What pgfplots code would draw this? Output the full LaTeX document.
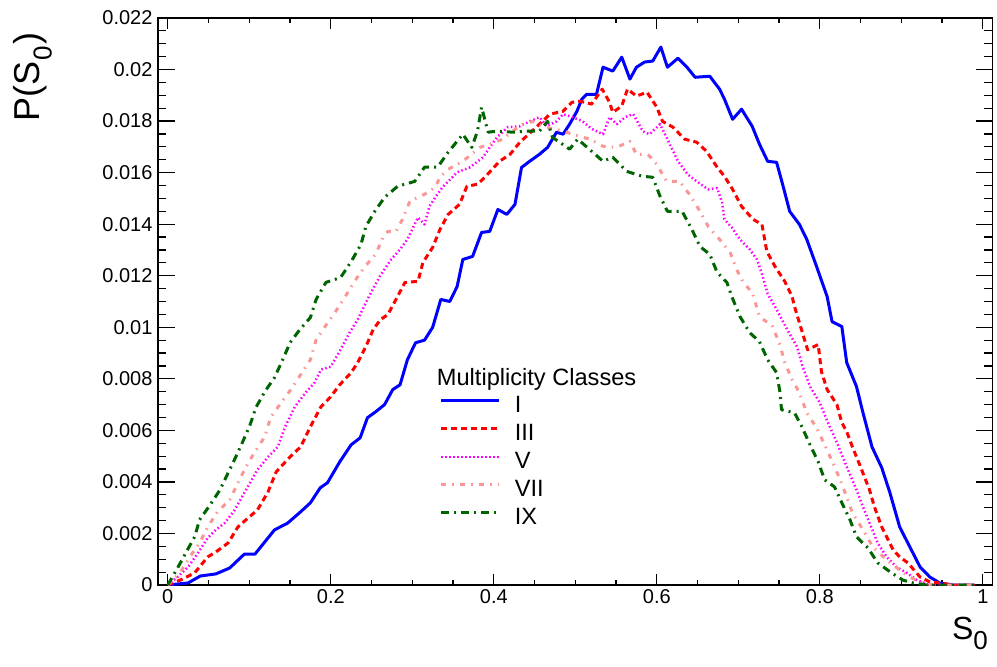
\documentclass[border=0pt]{standalone}
\usepackage{fontspec}
\setmainfont{Liberation Sans}
\usepackage{pgfplots}
\pgfplotsset{compat=1.18}
\definecolor{cI}{RGB}{0,0,255}
\definecolor{cIII}{RGB}{255,0,0}
\definecolor{cV}{RGB}{255,0,255}
\definecolor{cVII}{RGB}{250,150,150}
\definecolor{cIX}{RGB}{0,100,0}
\newcommand\subz[1]{\raisebox{-0.32em}{\fontsize{26bp}{28bp}\selectfont #1}}
\begin{document}
\begin{tikzpicture}
\path[use as bounding box] (-158bp,-82bp) rectangle (839bp,585bp);
\begin{axis}[
  at={(0,0)}, anchor=south west,
  scale only axis, width=834.6bp, height=567bp,
  xmin=-0.012, xmax=1.012, ymin=0, ymax=0.022,
  scaled x ticks=false, scaled y ticks=false,
  xtick={0,0.2,0.4,0.6,0.8,1}, xticklabels={0,0.2,0.4,0.6,0.8,1},
  ytick={0,0.002,0.004,0.006,0.008,0.01,0.012,0.014,0.016,0.018,0.02,0.022},
  yticklabels={0,0.002,0.004,0.006,0.008,0.01,0.012,0.014,0.016,0.018,0.02,0.022},
  minor x tick num=3, minor y tick num=3,
  tick align=inside,
  xtick style={/pgfplots/major tick length=11bp,/pgfplots/minor tick length=5.5bp},
  ytick style={/pgfplots/major tick length=17bp,/pgfplots/minor tick length=8.5bp},
  every tick/.style={black, line width=1.2bp},
  axis line style={line width=1.3bp},
  ticklabel style={font=\fontsize{20bp}{24bp}\selectfont},
  yticklabel style={xshift=-2bp},
  xticklabel style={yshift=-1bp},
  legend style={at={(axis cs:0.3337,0.00738)}, anchor=north west, draw=none, fill=none,
    inner sep=0pt, outer sep=0pt, row sep=0pt, column sep=14bp,
    font=\fontsize{23.6bp}{28bp}\selectfont,
    nodes={inner sep=0pt, text height=18bp, text depth=10bp}},
  legend cell align=left,
  legend image code/.code={\draw[#1, line cap=butt] (0bp,8bp) -- (58bp,8bp);},
  every axis plot/.append style={line join=round},
]
\addplot[cI, line width=3bp] coordinates {
(0,0) (0.025,0.00008) (0.040,0.00035) (0.059,0.00043) (0.076,0.00066) (0.094,0.00120) (0.107,0.00120) (0.131,0.00214) (0.147,0.00240) (0.163,0.00284) (0.175,0.00319) (0.187,0.00377) (0.196,0.00397) (0.211,0.00478) (0.225,0.00544) (0.236,0.00571) (0.245,0.00649) (0.255,0.00672) (0.266,0.00700) (0.276,0.00758) (0.285,0.00777) (0.294,0.00874) (0.304,0.00940) (0.315,0.00950) (0.325,0.01000) (0.335,0.01108) (0.346,0.01100) (0.355,0.01158) (0.362,0.01263) (0.374,0.01275) (0.385,0.01368) (0.395,0.01372) (0.405,0.01457) (0.416,0.01438) (0.426,0.01477) (0.434,0.01620) (0.444,0.01644) (0.456,0.01671) (0.466,0.01698) (0.472,0.01730) (0.477,0.01757) (0.485,0.01749) (0.493,0.01788) (0.502,0.01838) (0.508,0.01885) (0.514,0.01904) (0.526,0.01904) (0.534,0.02009) (0.546,0.01994) (0.557,0.02048) (0.567,0.01963) (0.575,0.02009) (0.585,0.02029) (0.595,0.02033) (0.605,0.02087) (0.613,0.02009) (0.626,0.02044) (0.637,0.02009) (0.647,0.01970) (0.665,0.01974) (0.677,0.01924) (0.683,0.01885) (0.693,0.01807) (0.704,0.01846) (0.717,0.01780) (0.726,0.01710) (0.736,0.01644) (0.747,0.01640) (0.755,0.01547) (0.763,0.01450) (0.775,0.01399) (0.784,0.01341) (0.796,0.01236) (0.809,0.01119) (0.815,0.01022) (0.827,0.01003) (0.833,0.00863) (0.845,0.00770) (0.853,0.00668) (0.864,0.00536) (0.876,0.00455) (0.886,0.00358) (0.898,0.00225) (0.908,0.00163) (0.923,0.00070) (0.935,0.00031) (0.947,0.00008) (0.963,0) (0.99,0)
};
\addlegendentry{I}
\addplot[cIII, line width=3bp, dash pattern=on 6bp off 4bp] coordinates {
(0,0) (0.016,0.00020) (0.033,0.00047) (0.049,0.00109) (0.059,0.00128) (0.074,0.00163) (0.086,0.00225) (0.096,0.00253) (0.110,0.00291) (0.123,0.00361) (0.133,0.00439) (0.150,0.00497) (0.163,0.00536) (0.175,0.00614) (0.188,0.00692) (0.199,0.00727) (0.211,0.00777) (0.225,0.00824) (0.233,0.00863) (0.243,0.00925) (0.252,0.00991) (0.261,0.01030) (0.270,0.01049) (0.280,0.01108) (0.291,0.01174) (0.307,0.01178) (0.313,0.01251) (0.325,0.01310) (0.334,0.01380) (0.344,0.01438) (0.358,0.01477) (0.367,0.01547) (0.380,0.01555) (0.389,0.01582) (0.407,0.01644) (0.420,0.01671) (0.432,0.01718) (0.440,0.01741) (0.456,0.01788) (0.469,0.01827) (0.485,0.01838) (0.496,0.01873) (0.506,0.01877) (0.520,0.01866) (0.533,0.01924) (0.542,0.01873) (0.546,0.01834) (0.557,0.01858) (0.564,0.01924) (0.575,0.01897) (0.588,0.01912) (0.600,0.01854) (0.607,0.01799) (0.620,0.01776) (0.634,0.01730) (0.649,0.01718) (0.661,0.01683) (0.674,0.01621) (0.683,0.01586) (0.693,0.01535) (0.704,0.01469) (0.718,0.01419) (0.729,0.01399) (0.735,0.01294) (0.745,0.01236) (0.757,0.01178) (0.766,0.01119) (0.769,0.01080) (0.782,0.00944) (0.785,0.00913) (0.798,0.00933) (0.802,0.00828) (0.809,0.00758) (0.821,0.00700) (0.827,0.00630) (0.833,0.00595) (0.840,0.00536) (0.849,0.00466) (0.861,0.00369) (0.867,0.00303) (0.876,0.00225) (0.882,0.00187) (0.890,0.00136) (0.898,0.00109) (0.908,0.00086) (0.923,0.00031) (0.935,0.00012) (0.947,0.00008) (0.963,0) (0.99,0)
};
\addlegendentry{III}
\addplot[cV, line width=2.5bp, dash pattern=on 1.5bp off 2.5bp] coordinates {
(0,0) (0.012,0.00031) (0.025,0.00070) (0.037,0.00124) (0.049,0.00183) (0.059,0.00214) (0.070,0.00241) (0.082,0.00291) (0.094,0.00358) (0.110,0.00447) (0.123,0.00497) (0.135,0.00536) (0.144,0.00614) (0.156,0.00692) (0.169,0.00746) (0.180,0.00785) (0.188,0.00836) (0.200,0.00847) (0.212,0.00913) (0.223,0.00979) (0.233,0.01030) (0.245,0.01108) (0.260,0.01197) (0.274,0.01263) (0.285,0.01302) (0.294,0.01341) (0.301,0.01387) (0.307,0.01426) (0.315,0.01399) (0.321,0.01469) (0.329,0.01508) (0.337,0.01543) (0.344,0.01566) (0.355,0.01601) (0.371,0.01621) (0.387,0.01660) (0.395,0.01698) (0.404,0.01737) (0.417,0.01776) (0.432,0.01780) (0.444,0.01799) (0.456,0.01815) (0.465,0.01780) (0.477,0.01799) (0.485,0.01827) (0.497,0.01815) (0.509,0.01799) (0.520,0.01770) (0.534,0.01749) (0.542,0.01815) (0.551,0.01788) (0.561,0.01815) (0.571,0.01827) (0.583,0.01760) (0.591,0.01749) (0.604,0.01788) (0.616,0.01710) (0.626,0.01644) (0.638,0.01593) (0.649,0.01566) (0.663,0.01535) (0.674,0.01540) (0.680,0.01485) (0.683,0.01419) (0.692,0.01387) (0.702,0.01341) (0.714,0.01302) (0.723,0.01263) (0.730,0.01197) (0.736,0.01130) (0.747,0.01069) (0.760,0.00991) (0.772,0.00925) (0.779,0.00847) (0.788,0.00770) (0.800,0.00707) (0.810,0.00630) (0.821,0.00552) (0.833,0.00459) (0.845,0.00369) (0.853,0.00303) (0.861,0.00241) (0.871,0.00163) (0.882,0.00109) (0.894,0.00070) (0.907,0.00047) (0.919,0.00019) (0.935,0) (0.99,0)
};
\addlegendentry{V}
\addplot[cVII, line width=3bp, dash pattern=on 5bp off 6bp on 1.5bp off 6.5bp] coordinates {
(0,0) (0.015,0.00047) (0.027,0.00109) (0.039,0.00163) (0.049,0.00225) (0.061,0.00284) (0.076,0.00330) (0.086,0.00396) (0.096,0.00459) (0.107,0.00517) (0.119,0.00575) (0.126,0.00649) (0.139,0.00707) (0.151,0.00758) (0.163,0.00816) (0.175,0.00874) (0.182,0.00952) (0.193,0.01003) (0.205,0.01057) (0.217,0.01115) (0.229,0.01178) (0.242,0.01236) (0.255,0.01283) (0.264,0.01349) (0.270,0.01372) (0.280,0.01372) (0.288,0.01419) (0.297,0.01489) (0.307,0.01504) (0.315,0.01516) (0.328,0.01543) (0.334,0.01582) (0.344,0.01613) (0.362,0.01644) (0.383,0.01698) (0.395,0.01710) (0.411,0.01730) (0.423,0.01761) (0.436,0.01788) (0.448,0.01799) (0.463,0.01776) (0.477,0.01768) (0.497,0.01749) (0.509,0.01737) (0.518,0.01730) (0.534,0.01702) (0.551,0.01698) (0.567,0.01722) (0.575,0.01671) (0.589,0.01671) (0.600,0.01632) (0.612,0.01566) (0.628,0.01566) (0.640,0.01516) (0.653,0.01450) (0.663,0.01391) (0.677,0.01341) (0.690,0.01290) (0.698,0.01224) (0.706,0.01174) (0.717,0.01135) (0.726,0.01042) (0.742,0.01003) (0.751,0.00933) (0.757,0.00863) (0.766,0.00797) (0.775,0.00746) (0.784,0.00668) (0.796,0.00610) (0.806,0.00544) (0.816,0.00474) (0.825,0.00408) (0.833,0.00342) (0.840,0.00280) (0.853,0.00214) (0.865,0.00148) (0.882,0.00097) (0.898,0.00058) (0.910,0.00031) (0.926,0.00008) (0.939,0) (0.99,0)
};
\addlegendentry{VII}
\addplot[cIX, line width=3bp, dash pattern=on 8bp off 5bp on 2bp off 5bp] coordinates {
(0,0) (0.012,0.00066) (0.022,0.00124) (0.033,0.00187) (0.039,0.00253) (0.052,0.00311) (0.064,0.00369) (0.074,0.00435) (0.083,0.00494) (0.092,0.00556) (0.101,0.00622) (0.108,0.00688) (0.119,0.00750) (0.131,0.00805) (0.141,0.00874) (0.150,0.00940) (0.162,0.00991) (0.175,0.01038) (0.182,0.01108) (0.194,0.01174) (0.212,0.01193) (0.225,0.01255) (0.237,0.01321) (0.243,0.01391) (0.254,0.01450) (0.266,0.01504) (0.282,0.01547) (0.303,0.01566) (0.315,0.01621) (0.331,0.01621) (0.344,0.01679) (0.362,0.01749) (0.373,0.01698) (0.380,0.01761) (0.385,0.01854) (0.393,0.01757) (0.405,0.01761) (0.423,0.01757) (0.440,0.01761) (0.456,0.01761) (0.466,0.01799) (0.472,0.01737) (0.493,0.01691) (0.503,0.01730) (0.520,0.01683) (0.534,0.01644) (0.546,0.01660) (0.563,0.01605) (0.582,0.01586) (0.595,0.01582) (0.604,0.01508) (0.613,0.01450) (0.631,0.01450) (0.643,0.01380) (0.653,0.01313) (0.665,0.01283) (0.674,0.01213) (0.686,0.01174) (0.692,0.01119) (0.702,0.01042) (0.714,0.00979) (0.726,0.00944) (0.736,0.00874) (0.747,0.00824) (0.751,0.00750) (0.753,0.00680) (0.769,0.00668) (0.778,0.00614) (0.788,0.00544) (0.798,0.00478) (0.806,0.00408) (0.818,0.00381) (0.827,0.00319) (0.837,0.00253) (0.845,0.00187) (0.859,0.00144) (0.871,0.00086) (0.888,0.00047) (0.902,0.00019) (0.914,0.00008) (0.931,0) (0.99,0)
};
\addlegendentry{IX}
\node[anchor=base west, inner sep=0pt, font=\fontsize{23.6bp}{28bp}\selectfont] at (axis cs:0.330,0.00775) {Multiplicity Classes};
\end{axis}
\node[rotate=90, anchor=base east, inner sep=0pt, font=\fontsize{36bp}{40bp}\selectfont] at (-118bp,553bp) {P(S\hspace{1bp}\subz{0}\hspace{2bp})};
\node[anchor=base east, inner sep=0pt, font=\fontsize{32bp}{36bp}\selectfont] at (830bp,-54bp) {S\subz{0}};
\end{tikzpicture}
\end{document}
